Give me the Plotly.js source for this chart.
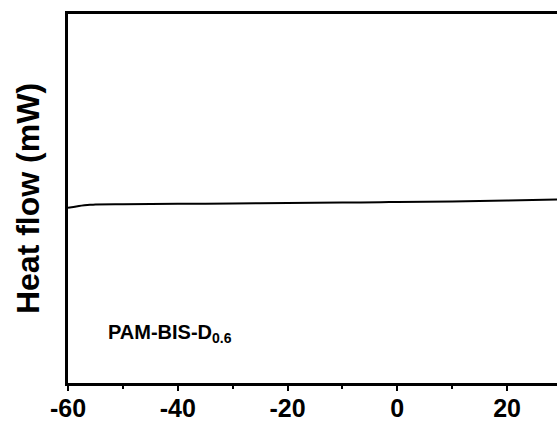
<!DOCTYPE html>
<html>
<head>
<meta charset="utf-8">
<script src="https://cdn.plot.ly/plotly-3.0.1.min.js"></script>
<style>
  html, body { margin: 0; padding: 0; background: #fff; }
  #plot { width: 557px; height: 421px; }
</style>
</head>
<body>
<div id="plot"></div>
<script>
// DSC trace: temperature (°C) vs heat flow (arbitrary offset units)
const temperature = [-60, -59, -58, -57, -56, -55, -50, -40, -30, -20, -10, -3, 0, 10, 20, 29.1];
const heatFlow    = [47.5, 47.7, 47.95, 48.15, 48.3, 48.4, 48.45, 48.55, 48.65, 48.75, 48.9, 49.0, 49.05, 49.2, 49.45, 49.7];

const tickValues = [-60, -40, -20, 0, 20];
const tickLabels = ['-60', '-40', '-20', '0', '20'];
const sampleLabel = 'PAM-BIS-D<sub>0.6</sub>';

const font = 'Liberation Sans, Arial, sans-serif';

const trace = {
  x: temperature,
  y: heatFlow,
  mode: 'lines',
  line: { color: '#000', width: 2, shape: 'spline', smoothing: 0.6 },
  hoverinfo: 'skip'
};

const layout = {
  width: 557,
  height: 421,
  margin: { l: 68, r: 0, t: 14, b: 38 },
  paper_bgcolor: '#fff',
  plot_bgcolor: '#fff',
  showlegend: false,
  xaxis: {
    range: [-60, 29.1],
    tickmode: 'array',
    tickvals: tickValues,
    ticktext: tickLabels,
    ticks: 'outside',
    ticklen: 5,
    tickwidth: 2,
    tickcolor: '#000',
    ticklabelstandoff: -4,
    minor: { dtick: 10, tick0: -50, ticks: 'outside', ticklen: 3, tickwidth: 2, tickcolor: '#000' },
    showline: true,
    linewidth: 3,
    linecolor: '#000',
    mirror: true,
    showgrid: false,
    zeroline: false,
    tickfont: { family: font, size: 25, color: '#000', weight: 'bold' }
  },
  yaxis: {
    range: [0, 100],
    showticklabels: false,
    ticks: '',
    showline: true,
    linewidth: 3,
    linecolor: '#000',
    mirror: false,
    showgrid: false,
    zeroline: false,
    title: {
      text: '<b>Heat flow (mW)</b>',
      font: { family: font, size: 32, color: '#000' },
      standoff: 16
    }
  },
  annotations: [{
    x: -53.1,
    y: 13.5,
    xref: 'x',
    yref: 'y',
    xanchor: 'left',
    yanchor: 'middle',
    showarrow: false,
    text: '<b>' + sampleLabel + '</b>',
    font: { family: font, size: 20, color: '#000' }
  }]
};

Plotly.newPlot('plot', [trace], layout, { displayModeBar: false, staticPlot: true });
</script>
</body>
</html>
